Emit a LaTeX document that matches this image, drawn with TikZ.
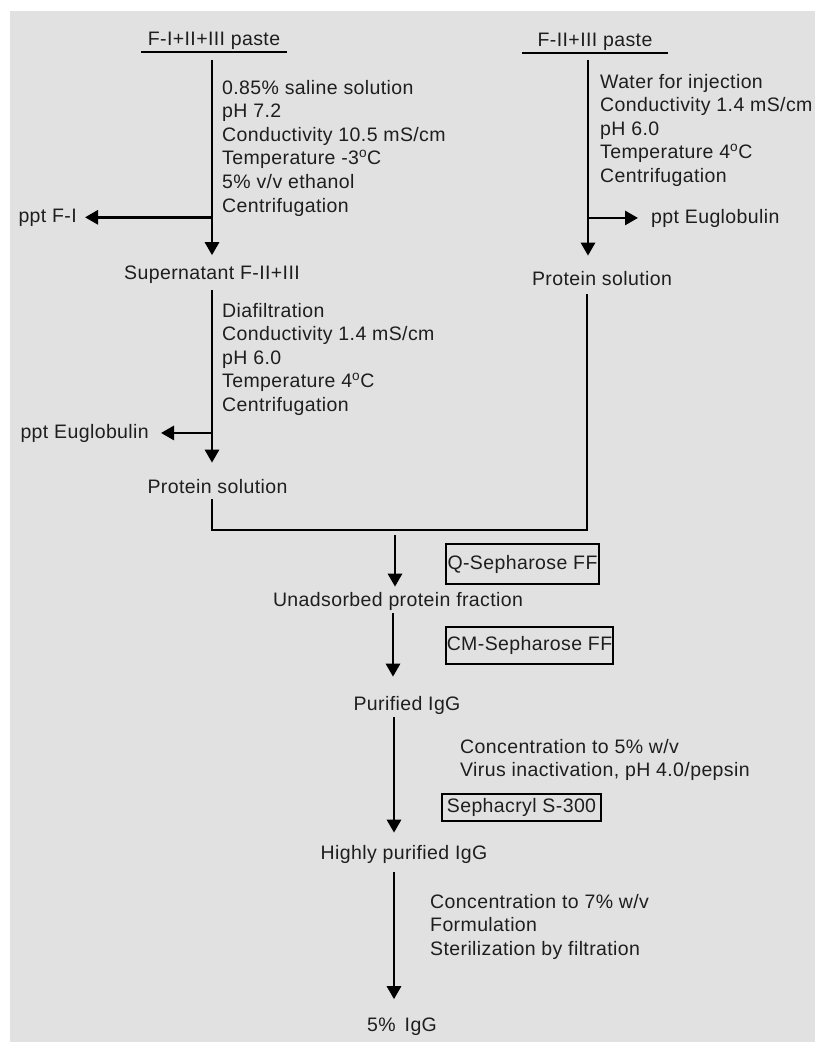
\documentclass[tikz,border=0pt]{standalone}
\usepackage{fontspec}
\setmainfont{Liberation Sans}[LetterSpace=2]
\usetikzlibrary{arrows.meta,calc}
\definecolor{bggray}{HTML}{E1E1E1}
\definecolor{txt}{HTML}{1E1E1E}
\tikzset{
  every node/.style={text=txt, font=\fontsize{19.5}{23.6}\selectfont},
  lbl/.style={inner sep=0pt, anchor=base},
  blk/.style={inner sep=0pt, anchor=base west},
  paste/.style={anchor=south, minimum width=146pt, inner xsep=0pt, inner ysep=2pt},
  bx/.style={draw=black, line width=2.3pt, inner sep=0pt},
  arr/.style={line width=2.8pt, -{Triangle[length=13pt,width=14pt]}},
  ln/.style={line width=2.8pt},
  ul/.style={line width=2.4pt}
}
\newcommand{\degsym}{\textsuperscript{o}}
\newcommand{\lines}[1]{\begin{tabular}[t]{@{}l@{}}#1\end{tabular}}
\begin{document}
\begin{tikzpicture}[x=1pt,y=-1pt]
\useasboundingbox (0,0) rectangle (815,1042);
\fill[bggray] (10,11) rectangle (815,1042);

% top left
\node[paste] (paste1) at (214,52) {F-I+II+III paste};
\draw[ul] (paste1.south west) -- (paste1.south east);
\node[blk] (blk1) at (222,94) {\lines{0.85\% saline solution\\pH 7.2\\Conductivity 10.5 mS/cm\\Temperature -3\degsym C\\5\% v/v ethanol\\Centrifugation}};
\node[lbl, anchor=base east] (pptF) at (77,222) {ppt F-I};
\node[lbl] (sup) at (212,279) {Supernatant F-II+III};

% top right
\node[paste] (paste2) at (595,53) {F-II+III paste};
\draw[ul] (paste2.south west) -- (paste2.south east);
\node[blk] (blkR) at (600,88) {\lines{Water for injection\\Conductivity 1.4 mS/cm\\pH 6.0\\Temperature 4\degsym C\\Centrifugation}};
\node[blk] (pptE1) at (651,223) {ppt Euglobulin};
\node[lbl] (protR) at (602,285) {Protein solution};

% middle left
\node[blk] (blk2) at (222,317) {\lines{Diafiltration\\Conductivity 1.4 mS/cm\\pH 6.0\\Temperature 4\degsym C\\Centrifugation}};
\node[lbl, anchor=base east] (pptE2) at (149,438) {ppt Euglobulin};
\node[lbl] (protL) at (217.5,493) {Protein solution};

% lower chain
\node[lbl] (unads) at (398,606) {Unadsorbed protein fraction};
\node[bx, minimum width=153pt, minimum height=40pt] (qbox) at (522.5,564) {Q-Sepharose FF};
\node[bx, minimum width=167pt, minimum height=37pt] (cmbox) at (529.5,645.5) {CM-Sepharose FF};
\node[lbl] (purif) at (407,710) {Purified IgG};
\node[blk] (conc1) at (460,753) {\lines{Concentration to 5\% w/v\\Virus inactivation, pH 4.0/pepsin}};
\node[bx, minimum width=159pt, minimum height=27pt] (sbox) at (521.5,807.5) {Sephacryl S-300};
\node[lbl] (high) at (404,859) {Highly purified IgG};
\node[blk] (conc2) at (430,908) {\lines{Concentration to 7\% w/v\\Formulation\\Sterilization by filtration}};
\node[lbl] (final) at (402,1031) {5\% \,IgG};

% connectors
\draw[arr, shorten <=8pt, shorten >=10pt] (sup.north |- paste1.south) -- (sup.north);
\draw[arr, shorten >=8pt] (sup.north |- pptF.east) -- (pptF.east);
\draw[arr, shorten <=7pt, shorten >=15pt] ([xshift=-7pt]paste2.south) -- ([xshift=-7pt]paste2.south |- protR.north);
\draw[arr, shorten >=13pt] ([xshift=-7pt]paste2.south |- pptE1.west) -- (pptE1.west);
\draw[arr, shorten <=3pt, shorten >=16pt] ([yshift=-4pt]sup.south) -- (sup.south |- protL.north);
\draw[arr, shorten >=12pt] (sup.south |- pptE2.east) -- (pptE2.east);

\coordinate (m1) at (212,530);
\coordinate (m2) at (587,530);
\draw[ln, shorten <=6pt, shorten >=9pt] (m1 |- protL.south) -- (m1) -- (m2) -- (m2 |- protR.south);

\draw[arr, shorten <=5pt, shorten >=5pt] ([xshift=-3pt]unads.north |- m1) -- ([xshift=-3pt]unads.north);
\draw[arr, shorten <=3pt, shorten >=19pt] ([xshift=-5pt]unads.south) -- ([xshift=-5pt]unads.south |- purif.north);
\draw[arr, shorten <=3pt, shorten >=12pt] ([xshift=-13pt]purif.south) -- ([xshift=-13pt]purif.south |- high.north);
\draw[arr, shorten <=9pt, shorten >=18pt] ([xshift=-10pt]high.south) -- ([xshift=-10pt]high.south |- final.north);
\end{tikzpicture}
\end{document}
